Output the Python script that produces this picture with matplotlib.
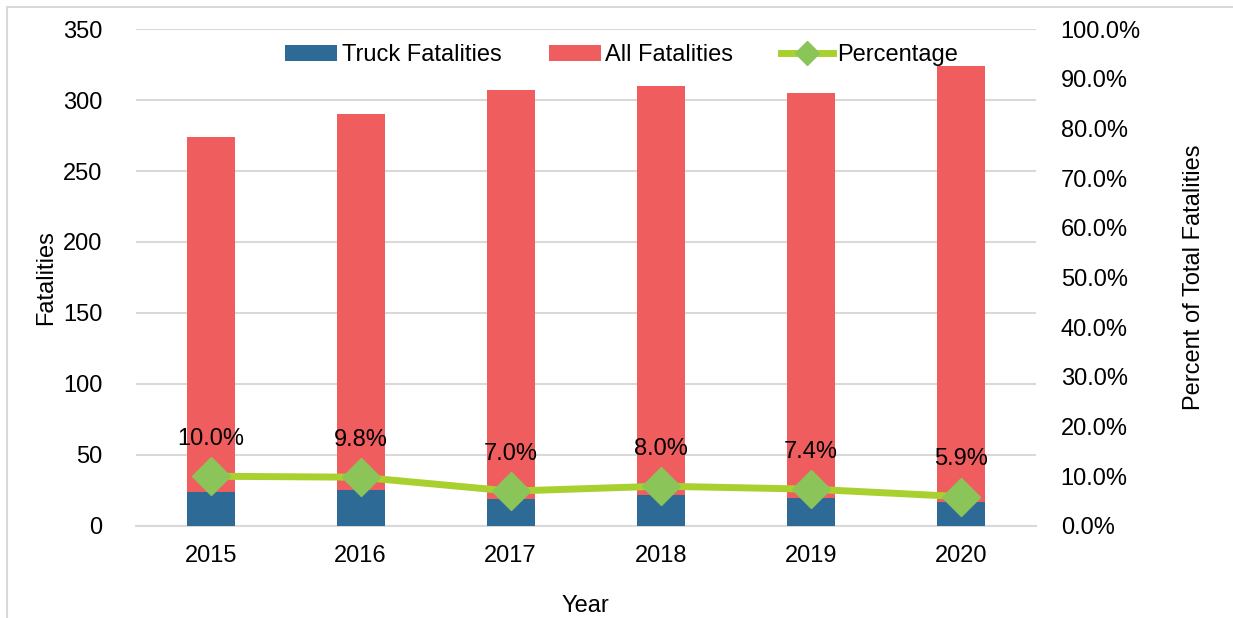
import matplotlib
matplotlib.use("Agg")
import matplotlib.pyplot as plt
from matplotlib.patches import Rectangle
from matplotlib.ticker import PercentFormatter

years = ["2015", "2016", "2017", "2018", "2019", "2020"]
all_fatalities = [274, 290, 307, 310, 305, 324]
truck_fatalities = [24, 25, 19, 22, 20, 17]
percentage = [10.0, 9.8, 7.0, 8.0, 7.4, 5.9]
pct_labels = ["10.0%", "9.8%", "7.0%", "8.0%", "7.4%", "5.9%"]

plt.rcParams["font.family"] = ["Liberation Sans", "DejaVu Sans"]
plt.rcParams["font.size"] = 17

fig = plt.figure(figsize=(12.33, 6.18), dpi=100)
ax = fig.add_axes([0.110, 0.149, 0.730, 0.804])
ax2 = ax.twinx()

x = range(len(years))
ax.bar(x, all_fatalities, width=0.32, color="#F05D5E", label="All Fatalities", zorder=2)
ax.bar(x, truck_fatalities, width=0.32, color="#2E6A96", label="Truck Fatalities", zorder=3)

ax2.plot(x, percentage, color="#A8D130", lw=5, marker="D", markersize=19,
         markerfacecolor="#8BC55A", markeredgecolor="#8BC55A", label="Percentage", zorder=4)
for xi, p, lab in zip(x, percentage, pct_labels):
    ax2.annotate(lab, (xi, p), xytext=(0, 19), textcoords="offset points",
                 ha="center", va="bottom", fontsize=17)

ax.set_xlim(-0.5, len(years) - 0.5)
ax.set_ylim(0, 350)
ax.set_yticks(range(0, 351, 50))
ax2.set_ylim(0, 100)
ax2.set_yticks(range(0, 101, 10))
ax2.yaxis.set_major_formatter(PercentFormatter(decimals=1))
ax.set_xticks(list(x))
ax.set_xticklabels(years)

ax.grid(axis="y", color="#D9D9D9", lw=1.5, zorder=0)
ax.set_axisbelow(True)
for a in (ax, ax2):
    for s in a.spines.values():
        s.set_visible(False)
    a.tick_params(length=0)
ax.spines["bottom"].set_visible(True)
ax.spines["bottom"].set_color("#D9D9D9")
ax.spines["bottom"].set_linewidth(1.5)
ax.tick_params(axis="x", pad=14)
ax.tick_params(axis="y", pad=24)
ax2.tick_params(axis="y", pad=18)

ax.set_xlabel("Year", labelpad=20)
ax.set_ylabel("Fatalities", labelpad=4)
ax2.set_ylabel("Percent of Total Fatalities", labelpad=30)

h1, l1 = ax.get_legend_handles_labels()
h2, l2 = ax2.get_legend_handles_labels()
handles = [h1[1], h1[0], h2[0]]
labels = [l1[1], l1[0], l2[0]]
ax.legend(handles, labels, loc="upper center", bbox_to_anchor=(0.54, 1.012), ncol=3,
          frameon=False, handlelength=2.2, handletextpad=0.2, columnspacing=2.0,
          markerscale=0.65, fontsize=17)

fig.patches.append(Rectangle((0.006, -0.05), 1.1, 1.039, transform=fig.transFigure,
                             fill=False, edgecolor="#D9D9D9", lw=1.5))

fig.savefig("out.png", dpi=100)
